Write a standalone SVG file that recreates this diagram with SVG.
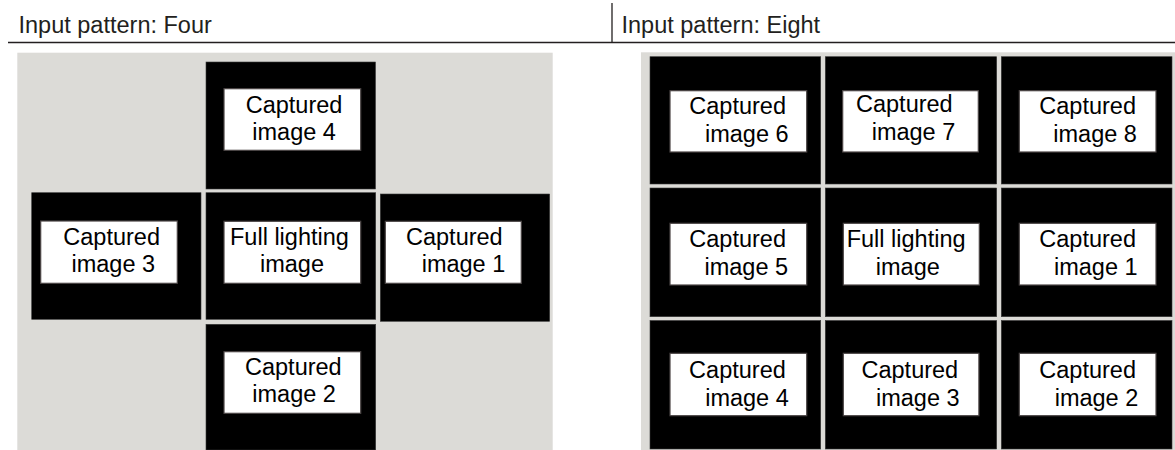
<svg xmlns="http://www.w3.org/2000/svg" width="1175" height="450" viewBox="0 0 1175 450">
<style>
text{font-family:"Liberation Sans",Arial,sans-serif;font-size:23.5px;fill:#000}
.hd{fill:#231f20}
.bg{fill:#dcdbd7}
.cell{fill:#000;stroke:#3a3a3a;stroke-width:0.6}
.box{fill:#fff;stroke:#4a4444;stroke-width:1.2}
.rule{stroke:#231f20;stroke-width:1.3;fill:none}
</style>
<rect width="1175" height="450" fill="#fff"/>
<g id="headers">
<text class="hd" x="18.5" y="32.7">Input pattern: Four</text>
<text class="hd" x="621.5" y="32.7">Input pattern: Eight</text>
<line class="rule" x1="8" y1="42.5" x2="1175" y2="42.5"/>
<line class="rule" x1="612" y1="3" x2="612" y2="42.5"/>
</g>
<g id="panel-four">
<rect class="bg" x="17.3" y="52.7" width="535.4" height="397.3"/>
<g id="four-img4">
<rect class="cell" x="206" y="62" width="169.5" height="127"/>
<rect class="box" x="224" y="88.7" width="136.7" height="61.6"/>
<text x="245.7" y="112.7">Captured</text>
<text x="252.3" y="140">image 4</text>
</g>
<g id="four-img3">
<rect class="cell" x="31.7" y="192.7" width="169.3" height="126.6"/>
<rect class="box" x="40.7" y="221" width="136.6" height="62.3"/>
<text x="63.3" y="245">Captured</text>
<text x="71.5" y="272.3">image 3</text>
</g>
<g id="four-full">
<rect class="cell" x="206" y="192.7" width="169.7" height="126.6"/>
<rect class="box" x="224" y="221.3" width="136.7" height="62"/>
<text x="230" y="245">Full lighting</text>
<text x="260" y="272.3">image</text>
</g>
<g id="four-img1">
<rect class="cell" x="380.3" y="194" width="169.4" height="127.3"/>
<rect class="box" x="385.3" y="221.3" width="136" height="62"/>
<text x="406" y="245">Captured</text>
<text x="421.7" y="272.3">image 1</text>
</g>
<g id="four-img2">
<rect class="cell" x="206" y="324.3" width="169.7" height="125.7"/>
<rect class="box" x="224" y="351.7" width="136.7" height="61.6"/>
<text x="245" y="374.5">Captured</text>
<text x="252.3" y="401.7">image 2</text>
</g>
</g>
<g id="panel-eight">
<rect class="bg" x="641" y="52.3" width="534" height="397.7"/>
<g id="eight-img6">
<rect class="cell" x="650" y="56.7" width="170.7" height="127.3"/>
<rect class="box" x="670" y="90.7" width="136.7" height="61.3"/>
<text x="689.3" y="114">Captured</text>
<text x="705" y="141.5">image 6</text>
</g>
<g id="eight-img7">
<rect class="cell" x="825.3" y="56.7" width="171.4" height="127.3"/>
<rect class="box" x="842.7" y="90.7" width="135.6" height="61.3"/>
<text x="856" y="112">Captured</text>
<text x="871.7" y="139.5">image 7</text>
</g>
<g id="eight-img8">
<rect class="cell" x="1001.3" y="56.7" width="170.7" height="127.3"/>
<rect class="box" x="1019.3" y="90.7" width="136.7" height="61.3"/>
<text x="1039.3" y="114">Captured</text>
<text x="1053.3" y="141.5">image 8</text>
</g>
<g id="eight-img5">
<rect class="cell" x="650" y="188" width="170.7" height="128.7"/>
<rect class="box" x="670" y="223.3" width="136.7" height="61.7"/>
<text x="689.3" y="247.3">Captured</text>
<text x="704.5" y="275">image 5</text>
</g>
<g id="eight-full">
<rect class="cell" x="825.3" y="188" width="171.4" height="128.7"/>
<rect class="box" x="843.3" y="223.3" width="136" height="61.7"/>
<text x="846.7" y="247.3">Full lighting</text>
<text x="875.8" y="275">image</text>
</g>
<g id="eight-img1">
<rect class="cell" x="1001.3" y="188" width="170.7" height="128.7"/>
<rect class="box" x="1019.3" y="223.3" width="136.7" height="61.7"/>
<text x="1039.3" y="247.3">Captured</text>
<text x="1054" y="275">image 1</text>
</g>
<g id="eight-img4">
<rect class="cell" x="650" y="320.5" width="170.7" height="128.5"/>
<rect class="box" x="670" y="353.3" width="136.7" height="62.4"/>
<text x="689.1" y="378">Captured</text>
<text x="705.2" y="405.5">image 4</text>
</g>
<g id="eight-img3">
<rect class="cell" x="825.3" y="320.5" width="171.4" height="128.5"/>
<rect class="box" x="843.3" y="353.3" width="135.6" height="62.4"/>
<text x="861.5" y="378">Captured</text>
<text x="876" y="405.5">image 3</text>
</g>
<g id="eight-img2">
<rect class="cell" x="1001.3" y="320.5" width="170.7" height="128.5"/>
<rect class="box" x="1019.3" y="353.3" width="136.7" height="62.4"/>
<text x="1039.3" y="378">Captured</text>
<text x="1054.7" y="405.5">image 2</text>
</g>
</g>
<g id="connectors"></g>
</svg>
